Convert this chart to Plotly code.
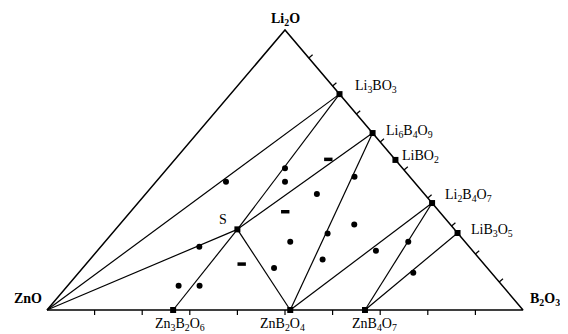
import numpy as np
import plotly.graph_objects as go

# ---------------- DATA (mol %: Li2O, ZnO, B2O3) ----------------
corner_names = ["Li2O", "ZnO", "B2O3"]
corner_labels = ["Li<sub>2</sub>O", "ZnO", "B<sub>2</sub>O<sub>3</sub>"]
corner_li2o = [100, 0, 0]
corner_zno = [0, 100, 0]
corner_b2o3 = [0, 0, 100]

compound_names = ["Li3BO3", "Li6B4O9", "LiBO2", "Li2B4O7", "LiB3O5",
                  "Zn3B2O6", "ZnB2O4", "ZnB4O7", "S"]
compound_labels = ["Li<sub>3</sub>BO<sub>3</sub>", "Li<sub>6</sub>B<sub>4</sub>O<sub>9</sub>",
                   "LiBO<sub>2</sub>", "Li<sub>2</sub>B<sub>4</sub>O<sub>7</sub>",
                   "LiB<sub>3</sub>O<sub>5</sub>", "Zn<sub>3</sub>B<sub>2</sub>O<sub>6</sub>",
                   "ZnB<sub>2</sub>O<sub>4</sub>", "ZnB<sub>4</sub>O<sub>7</sub>", "S"]
compound_li2o = [77.1, 63.2, 53.6, 38.2, 27.5, 0.0, 0.0, 0.0, 28.8]
compound_zno = [0.0, 0.0, 0.0, 0.0, 0.0, 73.5, 48.9, 33.2, 45.6]
compound_b2o3 = [22.9, 36.8, 46.4, 61.8, 72.5, 26.5, 51.1, 66.8, 25.6]

# tie lines (pairs of phase names)
tie_lines = [("ZnO", "Li3BO3"), ("ZnO", "S"), ("S", "Li6B4O9"),
             ("Zn3B2O6", "S"), ("S", "Li3BO3"), ("S", "ZnB2O4"),
             ("Li6B4O9", "ZnB2O4"), ("ZnB2O4", "Li2B4O7"),
             ("ZnB4O7", "Li2B4O7"), ("ZnB4O7", "LiB3O5")]

# experimental sample compositions (round dots)
sample_li2o = [45.8, 50.6, 45.8, 41.4, 47.6, 22.6, 24.4, 30.5, 27.3, 15.0,
               18.0, 21.2, 24.4, 13.3, 8.7, 8.7]
sample_zno = [39.5, 24.7, 27.1, 22.6, 11.6, 56.7, 36.7, 20.2, 27.4, 44.8,
              33.1, 20.3, 11.9, 16.4, 68.0, 63.6]
sample_b2o3 = [14.7, 24.7, 27.1, 36.0, 40.8, 20.7, 38.9, 49.3, 45.3, 40.2,
               48.9, 58.5, 63.7, 70.3, 23.3, 27.7]
# experimental sample compositions (short dashes)
dash_li2o = [53.8, 35.1, 16.4]
dash_zno = [14.0, 32.4, 50.9]
dash_b2o3 = [32.2, 32.5, 32.7]

tick_fracs = [0.1, 0.2, 0.3, 0.4, 0.5, 0.6, 0.7, 0.8, 0.9]


# ---------------- helpers ----------------
def to_xy(li2o, zno, b2o3):
    li2o = np.asarray(li2o, float)
    zno = np.asarray(zno, float)
    b2o3 = np.asarray(b2o3, float)
    tot = li2o + zno + b2o3
    a = li2o / tot
    c = b2o3 / tot
    return c + a / 2.0, a


pos = {}
cx, cy = to_xy(corner_li2o, corner_zno, corner_b2o3)
for n, x, y in zip(corner_names, cx, cy):
    pos[n] = (x, y)
px_, py_ = to_xy(compound_li2o, compound_zno, compound_b2o3)
for n, x, y in zip(compound_names, px_, py_):
    pos[n] = (x, y)

# geometry: page body has an 8px margin, so the figure is 560x326
PAD = 8
XU, YU = 476.0, 280.0
X0, Y0 = 47.0 - PAD, 310.0 - PAD
W, H = 568 - PAD, 334 - PAD

fig = go.Figure()

# triangle outline
tri = ["ZnO", "B2O3", "Li2O", "ZnO"]
fig.add_trace(go.Scatter(x=[pos[n][0] for n in tri], y=[pos[n][1] for n in tri],
                         mode="lines", line=dict(color="black", width=1.5),
                         hoverinfo="skip", showlegend=False))

# tie lines
lx, ly = [], []
for p, q in tie_lines:
    lx += [pos[p][0], pos[q][0], None]
    ly += [pos[p][1], pos[q][1], None]
fig.add_trace(go.Scatter(x=lx, y=ly, mode="lines",
                         line=dict(color="black", width=1.2),
                         hoverinfo="skip", showlegend=False))

# ticks: base (downward) and right edge (outward)
tx, ty = [], []
L = 5.0
for f in tick_fracs:
    tx += [f, f, None]
    ty += [0, -L / YU, None]
nx, ny = 280.0, 238.0
nl = np.hypot(nx, ny)
for f in tick_fracs:
    ex, ey = 0.5 + 0.5 * f, 1 - f
    tx += [ex, ex + L * nx / nl / XU, None]
    ty += [ey, ey + L * ny / nl / YU, None]
fig.add_trace(go.Scatter(x=tx, y=ty, mode="lines",
                         line=dict(color="black", width=1.2),
                         hoverinfo="skip", showlegend=False))

# compound points
fig.add_trace(go.Scatter(x=px_, y=py_, mode="markers",
                         marker=dict(symbol="square", size=6, color="black"),
                         showlegend=False))

# sample points
sx, sy = to_xy(sample_li2o, sample_zno, sample_b2o3)
fig.add_trace(go.Scatter(x=sx, y=sy, mode="markers",
                         marker=dict(symbol="circle", size=6, color="black"),
                         showlegend=False))
dx, dy = to_xy(dash_li2o, dash_zno, dash_b2o3)
fig.add_trace(go.Scatter(x=dx, y=dy, mode="markers",
                         marker=dict(symbol="line-ew", size=6,
                                     line=dict(color="black", width=3.5)),
                         showlegend=False))

# labels
serif = "Liberation Serif, Times New Roman, serif"
corner_style = {
    "Li2O": dict(xanchor="center", yanchor="middle", xshift=0, yshift=11, size=14),
    "ZnO": dict(xanchor="right", yanchor="middle", xshift=-3, yshift=12, size=14),
    "B2O3": dict(xanchor="left", yanchor="middle", xshift=5, yshift=11, size=14),
}
for n, lab in zip(corner_names, corner_labels):
    st = dict(corner_style[n])
    fs = st.pop("size")
    fig.add_annotation(x=pos[n][0], y=pos[n][1], text="<b>" + lab + "</b>",
                       showarrow=False, font=dict(family=serif, size=fs, color="black"),
                       **st)

comp_style = {
    "Li3BO3": dict(xanchor="left", yanchor="middle", xshift=13, yshift=8),
    "Li6B4O9": dict(xanchor="left", yanchor="middle", xshift=11, yshift=2),
    "LiBO2": dict(xanchor="left", yanchor="middle", xshift=5, yshift=3),
    "Li2B4O7": dict(xanchor="left", yanchor="middle", xshift=11, yshift=8),
    "LiB3O5": dict(xanchor="left", yanchor="middle", xshift=11, yshift=3),
    "Zn3B2O6": dict(xanchor="center", yanchor="middle", xshift=7, yshift=-14),
    "ZnB2O4": dict(xanchor="center", yanchor="middle", xshift=-8, yshift=-14),
    "ZnB4O7": dict(xanchor="center", yanchor="middle", xshift=10, yshift=-14),
    "S": dict(xanchor="center", yanchor="middle", xshift=-14, yshift=10),
}
for n, lab in zip(compound_names, compound_labels):
    fig.add_annotation(x=pos[n][0], y=pos[n][1], text=lab, showarrow=False,
                       font=dict(family=serif, size=14, color="black"),
                       **comp_style[n])

fig.update_xaxes(range=[-X0 / XU, (W - X0) / XU], visible=False, fixedrange=True)
fig.update_yaxes(range=[(Y0 - H) / YU, Y0 / YU], visible=False, fixedrange=True)
fig.update_layout(width=W, height=H, margin=dict(l=0, r=0, t=0, b=0),
                  paper_bgcolor="white", plot_bgcolor="white", showlegend=False)

fig.write_html("out.html")
